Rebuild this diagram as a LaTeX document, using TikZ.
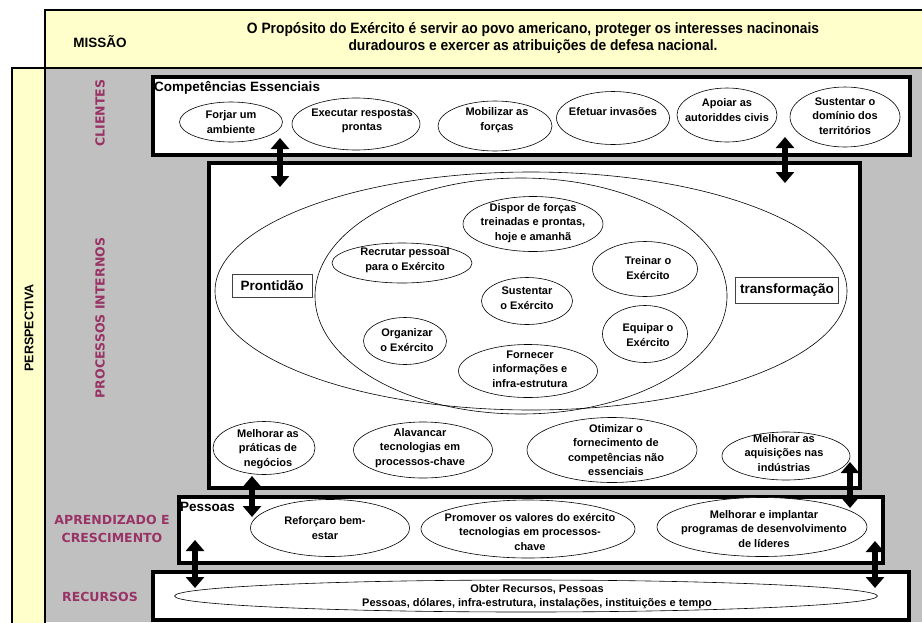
\documentclass[tikz,border=0pt]{standalone}
\usepackage{fontspec}
\setmainfont{Liberation Sans}
\newfontfamily\labelfont{DejaVu Sans}
\newfontfamily\narrowfont[FakeStretch=0.92]{Liberation Sans}
\usetikzlibrary{shapes.geometric, arrows.meta}

\definecolor{missionyellow}{HTML}{FFFFCC}
\definecolor{panelgray}{HTML}{C0C0C0}
\definecolor{plum}{HTML}{993366}

% ellipse with its own text block: name, centre x, centre y, width, height, text x, text y, text
\newcommand\ovalitem[8]{%
  \node[oval, minimum width=#4pt, minimum height=#5pt] (#1) at (#2,#3) {};
  \node[ovaltext] (#1-txt) at (#6,#7) {#8};}

\begin{document}
\begin{tikzpicture}[x=1pt, y=-1pt,
  frame/.style={draw=black, line width=3.5pt, fill=white},
  oval/.style={ellipse, draw=black, line width=0.6pt, fill=white, inner sep=0pt},
  ovaltext/.style={font=\fontsize{11}{14.5}\selectfont\bfseries, align=center, inner sep=0pt},
  perslabel/.style={font=\labelfont\fontsize{12.5}{18}\selectfont\bfseries, text=plum, align=center, inner sep=0pt},
  tagbox/.style={draw=black!75, line width=0.8pt, fill=white, font=\fontsize{13.5}{16}\selectfont\bfseries, inner sep=0pt},
  heading/.style={font=\fontsize{13.5}{16}\selectfont\bfseries, anchor=west, inner sep=0pt},
  dblarrow/.style={line width=6pt, arrows={Triangle[length=11pt,width=18pt]-Triangle[length=11pt,width=18pt]}}]

\useasboundingbox (0,0) rectangle (922,622);
\clip (0,0) rectangle (922,622);
\fill[white] (0,0) rectangle (922,622);

% background panels
\fill[panelgray] (45,68) rectangle (922,622);
\draw[line width=2pt, fill=missionyellow] (45,10) rectangle (935,68);
\draw[line width=2pt, fill=missionyellow] (12,68) rectangle (45,640);

% mission
\node[font=\fontsize{13.5}{16}\selectfont\bfseries, inner sep=0pt] (missao) at (100,42) {MISSÃO};
\node[font=\narrowfont\fontsize{15}{17}\selectfont\bfseries, align=center, inner sep=0pt] (missiontext) at (533,38.5)
  {O Propósito do Exército é servir ao povo americano, proteger os interesses nacinonais\\
   duradouros e exercer as atribuições de defesa nacional.};

% perspective labels
\node[font=\fontsize{12.5}{15}\selectfont\bfseries, rotate=90, inner sep=0pt] (perspectiva) at (29,328) {PERSPECTIVA};
\node[perslabel, rotate=90] (clientes) at (100,113) {CLIENTES};
\node[perslabel, rotate=90] (processos) at (100,318) {PROCESSOS INTERNOS};
\node[perslabel] (aprendizado) at (112,529) {APRENDIZADO E\\CRESCIMENTO};
\node[perslabel] (recursos) at (100,597) {RECURSOS};

% frames
\draw[frame] (153,77) rectangle (910,155);
\draw[frame] (209,163) rectangle (860,488);
\draw[frame] (179,497) rectangle (883,563);
\draw[frame] (153,572) rectangle (909,620);

% customers
\node[heading] (competencias) at (154,88) {Competências Essenciais};
\ovalitem{forjar}{231}{122}{103}{40}{231}{122}{Forjar um\\ambiente}
\ovalitem{executar}{356}{124}{128}{52}{362}{121}{Executar respostas\\prontas}
\ovalitem{mobilizar}{495}{126}{114}{50}{497}{120}{Mobilizar as\\forças}
\ovalitem{efetuar}{613}{118}{113}{53}{613}{112}{Efetuar invasões}
\ovalitem{apoiar}{727}{115}{100}{54}{727}{110}{Apoiar as\\autoriddes civis}
\ovalitem{dominio}{845}{117}{110}{60}{845}{116}{Sustentar o\\domínio dos\\territórios}

% internal processes
\node[ellipse, draw=black, line width=0.6pt, inner sep=0pt, minimum width=632pt, minimum height=238pt] (outer) at (531,291) {};
\node[ellipse, draw=black, line width=0.6pt, inner sep=0pt, minimum width=412pt, minimum height=236pt] (inner) at (521,296) {};
\node[tagbox, minimum width=80pt, minimum height=23pt] (prontidao) at (272,286) {Prontidão};
\node[tagbox, minimum width=103pt, minimum height=26pt] (transformacao) at (787,290) {transformação};

\ovalitem{dispor}{533}{224}{140}{55}{533}{223}{Dispor de forças\\treinadas e prontas,\\hoje e amanhã}
\ovalitem{recrutar}{402}{263}{140}{40}{405}{260}{Recrutar pessoal\\para o Exército}
\ovalitem{sustentar}{527}{301}{91}{47}{527}{298}{Sustentar\\o Exército}
\ovalitem{organizar}{405}{341}{83}{47}{407}{340}{Organizar\\o Exército}
\ovalitem{fornecer}{528}{371}{139}{53}{530}{369}{Fornecer\\informações e\\infra-estrutura}
\ovalitem{treinar}{645}{269}{105}{55}{648}{268}{Treinar o\\Exército}
\ovalitem{equipar}{645}{334}{85}{57}{648}{335}{Equipar o\\Exército}

\ovalitem{praticas}{264}{448}{102}{53}{268}{449}{Melhorar as\\práticas de\\negócios}
\ovalitem{alavancar}{423}{450}{139}{56}{420}{448}{Alavancar\\tecnologias em\\processos-chave}
\ovalitem{otimizar}{612}{450}{170}{65}{616}{450}{Otimizar o\\fornecimento de\\competências não\\essenciais}
\ovalitem{aquisicoes}{786}{456}{128}{48}{784}{453}{Melhorar as\\aquisições nas\\indústrias}

% learning and growth
\node[heading] (pessoas) at (180,507) {Pessoas};
\ovalitem{reforcar}{330}{528}{159}{57}{325}{528}{Reforçaro bem-\\estar}
\ovalitem{promover}{528}{529}{214}{58}{530}{532}{Promover os valores do exército\\tecnologias em processos-\\chave}
\ovalitem{lideres}{762}{527}{210}{59}{764}{529}{Melhorar e implantar\\programas de desenvolvimento\\de líderes}

% resources
\node[oval, minimum width=703pt, minimum height=32pt] (obter) at (526,596) {};
\node[ovaltext, font=\fontsize{11}{13.5}\selectfont\bfseries] (obter-txt) at (537,596.5)
  {Obter Recursos, Pessoas\\Pessoas, dólares, infra-estrutura, instalações, instituições e tempo};

% links between the layers
\coordinate (a1top) at (280,138); \coordinate (a1bot) at (280,187);
\coordinate (a2top) at (785,137); \coordinate (a2bot) at (785,183);
\coordinate (a3top) at (252,476); \coordinate (a3bot) at (252,517);
\coordinate (a4top) at (850,462); \coordinate (a4bot) at (850,508);
\coordinate (a5top) at (195,540); \coordinate (a5bot) at (195,588);
\coordinate (a6top) at (875,541); \coordinate (a6bot) at (875,588);
\draw[dblarrow] (a1top) -- (a1bot);
\draw[dblarrow] (a2top) -- (a2bot);
\draw[dblarrow] (a3top) -- (a3bot);
\draw[dblarrow] (a4top) -- (a4bot);
\draw[dblarrow] (a5top) -- (a5bot);
\draw[dblarrow] (a6top) -- (a6bot);
\end{tikzpicture}
\end{document}
